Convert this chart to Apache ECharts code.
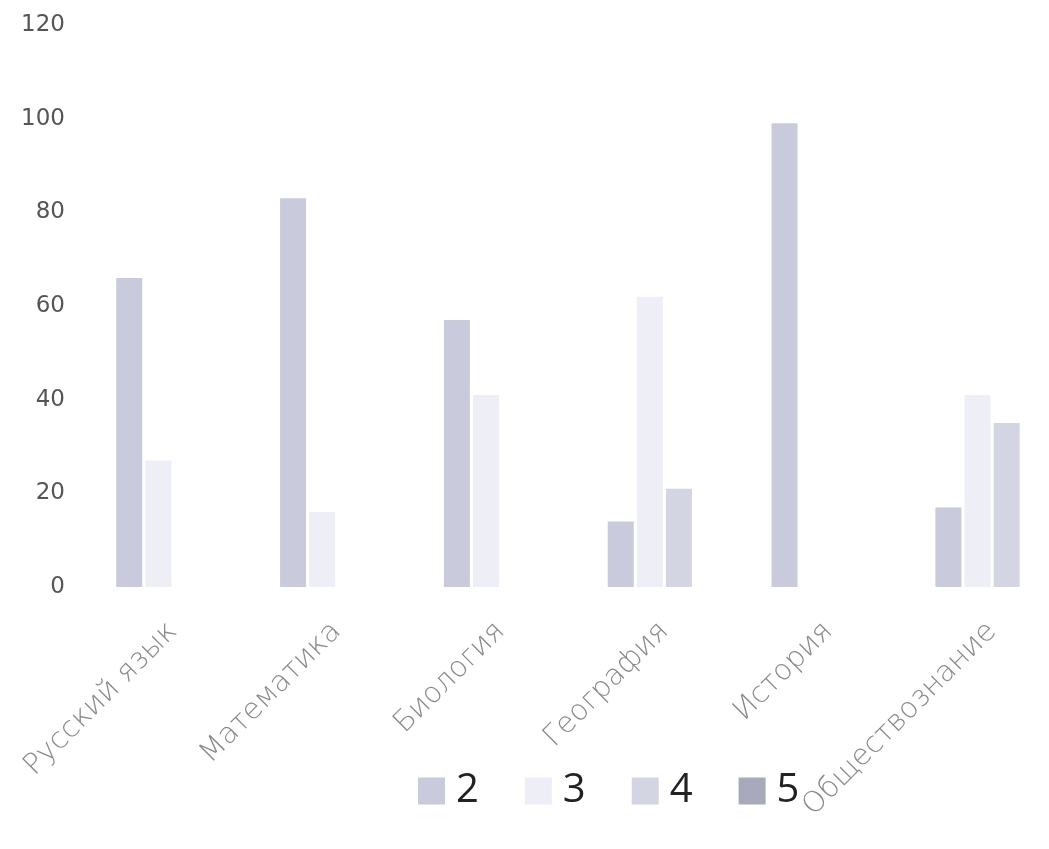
<!DOCTYPE html>
<html>
<head>
<meta charset="utf-8">
<script src="https://cdn.jsdelivr.net/npm/echarts@6/dist/echarts.min.js"></script>
<style>html,body{margin:0;padding:0;background:#fff}#c{width:1049px;height:849px}</style>
</head>
<body>
<div id="c"></div>
<script>
const categories = ['Русский язык', 'Математика', 'Биология', 'География', 'История', 'Обществознание'];
const seriesNames = ['2', '3', '4', '5'];
const grade2 = [66, 83, 57, 14, 99, 17];
const grade3 = [27, 16, 41, 62, 0, 41];
const grade4 = [0, 0, 0, 21, 0, 35];
const grade5 = [0, 0, 0, 0, 0, 0];
const colors = ['#c9cadb', '#eeeff6', '#d4d5e2', '#a8a9bb'];

const chart = echarts.init(document.getElementById('c'));
const values = [grade2, grade3, grade4, grade5];
chart.setOption({
  animation: false,
  color: colors,
  textStyle: { fontFamily: 'DejaVu Sans' },
  grid: { left: 91, top: 25, width: 983, bottom: 262, containLabel: false, outerBoundsMode: 'none' },
  legend: {
    data: seriesNames,
    left: 413, top: 766,
    itemWidth: 27, itemHeight: 27, itemGap: 46,
    icon: 'rect',
    textStyle: { fontSize: 40, color: '#222', fontFamily: 'Open Sans', padding: [0, 0, 0, 6] }
  },
  xAxis: {
    type: 'category',
    data: categories,
    axisLine: { show: false },
    axisTick: { show: false },
    axisLabel: { rotate: 45, fontSize: 29, color: '#8a8a8a', margin: 40, interval: 0, fontFamily: 'DejaVu Sans', fontWeight: 'lighter' }
  },
  yAxis: {
    type: 'value',
    min: 0, max: 120, interval: 20,
    axisLine: { show: false },
    axisTick: { show: false },
    splitLine: { show: false },
    axisLabel: { fontSize: 23, color: '#555', margin: 26, fontFamily: 'DejaVu Sans' }
  },
  series: seriesNames.map((n, i) => ({
    name: n,
    type: 'bar',
    data: values[i],
    barWidth: 26,
    barGap: '12%'
  }))
});
</script>
</body>
</html>
